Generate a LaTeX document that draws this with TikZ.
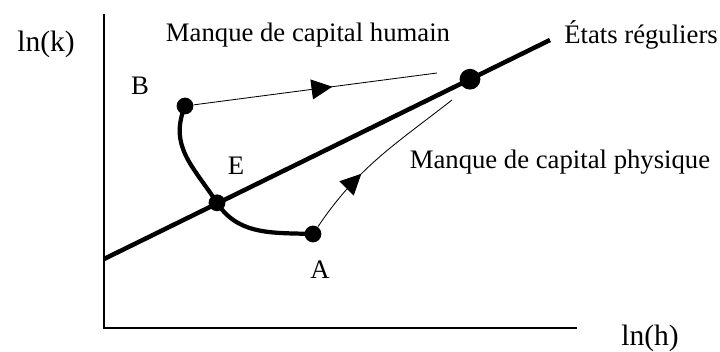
\documentclass[tikz,border=0pt]{standalone}
\usepackage{fontspec}
\setmainfont{Liberation Serif}
\usepackage{tikz}
\usetikzlibrary{arrows.meta, positioning, decorations.markings}

\begin{document}
\begin{tikzpicture}[
    point/.style={circle,fill=black,inner sep=0pt,minimum size=0.42cm},
    lbl/.style={font=\fontsize{19}{22}\selectfont,inner sep=0pt},
    axlbl/.style={font=\fontsize{21}{24}\selectfont,inner sep=0pt},
    axis/.style={thick,line cap=rect},
    midarrow/.style={postaction={decorate},decoration={markings,
      mark=at position #1 with {\arrow{Triangle[length=0.52cm,width=0.5cm]}}}},
  ]
  \useasboundingbox (-2.6,-0.6) rectangle (15.4,8.2);

  % Axes
  \coordinate (o) at (0,0);
  \coordinate (ytop) at (0,7.825);
  \coordinate (xend) at (11.8,0);
  \draw[axis] (ytop) -- (o) -- (xend);
  \node[axlbl] (lnk) at (-1.45,7.1) {ln(k)};
  \node[axlbl] (lnh) at (13.65,-0.25) {ln(h)};

  % Steady states
  \coordinate (l0) at (0,1.725);
  \coordinate (l1) at (11.15,7.2);
  \draw[line width=3.2pt] (l0) -- (l1);
  \node[lbl,anchor=west] (etats) at (11.5,7.32) {États réguliers};
  \node[point,minimum width=0.47cm,minimum height=0.52cm] (S) at (9.15,6.22) {};

  % Points
  \node[point] (B) at (2.025,5.55) {};
  \node[point] (E) at (2.825,3.13) {};
  \node[point] (A) at (5.225,2.35) {};
  \node[lbl] (lB) at (0.9,6.05) {B};
  \node[lbl] (lE) at (3.3,4.05) {E};
  \node[lbl] (lA) at (5.4,1.45) {A};

  \draw[line width=3pt] (B.center) to[out=248,in=123,looseness=1.1] (E.center)
    to[out=-57,in=178] (A.center);

  % Adjustment paths
  \coordinate (hend) at (8.325,6.375);
  \coordinate (kend) at (8.7,5.7);
  \draw[semithick,midarrow=0.57] (B) -- (hend);
  \draw[semithick,midarrow=0.37] (A) to[out=56,in=218] (kend);
  \node[lbl] (mh) at (5.1,7.32) {Manque de capital humain};
  \node[lbl] (mk) at (11.4,4.15) {Manque de capital physique};
\end{tikzpicture}
\end{document}
